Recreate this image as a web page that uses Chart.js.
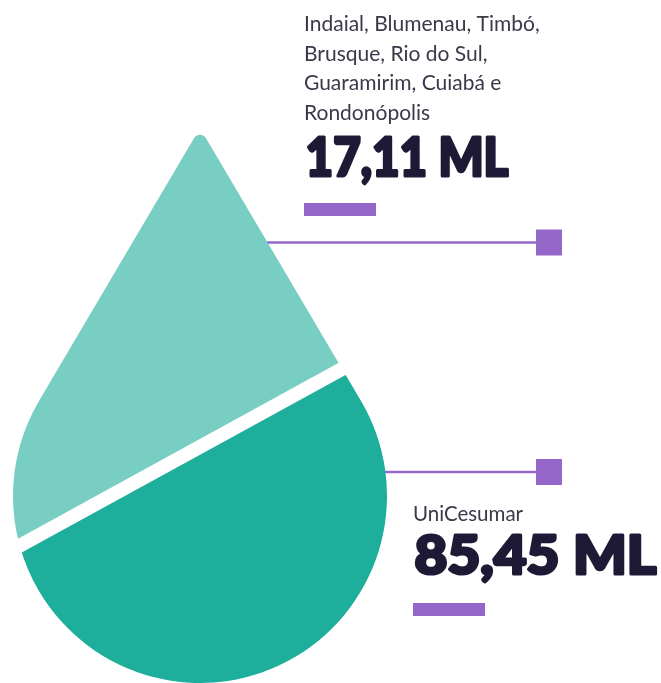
<!DOCTYPE html>
<html><head><meta charset="utf-8">
<script src="https://cdn.jsdelivr.net/npm/chart.js@4.4.1/dist/chart.umd.min.js"></script>
<style>html,body{margin:0;padding:0;background:#fff;overflow:hidden}#wrap{position:relative;width:661px;height:683px}</style>
</head><body><div id="wrap"><canvas id="c" width="661" height="683"></canvas></div>
<script>
// ---- data ----
const categories = ['Consumo'];
const groupNames = [
  ['Indaial, Blumenau, Timbó,', 'Brusque, Rio do Sul,', 'Guaramirim, Cuiabá e', 'Rondonópolis'],
  ['UniCesumar']
];
const volumes = [17.11, 85.45];
const unit = 'ML';
const groupColors = ['#78cec2', '#1daf9b'];

// ---- style / layout ----
const PURPLE = '#9467c8';
const NAVY = '#1e1a36';
const GRAY = '#3b3849';
const labelLayout = [
  { x: 304, nameY: 31, lineH: 29.5, nameSize: 21, valueY: 178, valueW: 206, valueSize: 54, barY: 203, leaderY: 242.5, leaderFrom: 240 },
  { x: 413, nameY: 521, lineH: 29.5, nameSize: 20.5, valueY: 576, valueW: 245, valueSize: 54, barY: 603, leaderY: 472, leaderFrom: 300 }
];
const DROP = { cx: 200, cy: 496, r: 187, tx: 200, ty: 128, tipR: 7 };
const SPLIT = { x: 182, y: 456.7, angle: Math.atan2(-177.7, 324) };
const HEAVY = 'Lato';
const HEAVY_STROKE = 3.2;

const fmt = v => v.toFixed(2).replace('.', ',') + ' ' + unit;

function dropPath(ctx) {
  const { cx, cy, r, tx, ty, tipR } = DROP;
  const a = Math.acos(r / (cy - ty));
  const aR = -Math.PI / 2 + a, aL = -Math.PI / 2 - a;
  const L = [cx + r * Math.cos(aL), cy + r * Math.sin(aL)];
  const R = [cx + r * Math.cos(aR), cy + r * Math.sin(aR)];
  ctx.beginPath();
  ctx.moveTo(L[0], L[1]);
  ctx.arcTo(tx, ty, R[0], R[1], tipR);
  ctx.lineTo(R[0], R[1]);
  ctx.arc(cx, cy, r, aR, aL + 2 * Math.PI, false);
  ctx.closePath();
}

const dropPlugin = {
  id: 'drop',
  beforeDatasetsDraw(chart) {
    const ctx = chart.ctx;
    ctx.save();
    labelLayout.forEach(l => {
      ctx.strokeStyle = PURPLE; ctx.lineWidth = 2.5;
      ctx.beginPath(); ctx.moveTo(l.leaderFrom, l.leaderY); ctx.lineTo(540, l.leaderY); ctx.stroke();
      ctx.fillStyle = PURPLE;
      ctx.fillRect(536, l.leaderY - 13, 26, 26);
    });
    ctx.restore();
    ctx.save();
    dropPath(ctx);
    ctx.clip();
    const bar = chart.getDatasetMeta(0).data[0];
    ctx.translate(SPLIT.x, SPLIT.y);
    ctx.rotate(SPLIT.angle);
    ctx.translate(-bar.x, -bar.y);
  },
  afterDatasetsDraw(chart) {
    chart.ctx.restore();
  },
  afterDraw(chart) {
    const ctx = chart.ctx;
    ctx.save();
    ctx.textBaseline = 'alphabetic';
    ctx.textAlign = 'left';
    groupNames.forEach((lines, i) => {
      const l = labelLayout[i];
      ctx.fillStyle = GRAY;
      ctx.font = `400 ${l.nameSize}px Lato`;
      lines.forEach((t, j) => ctx.fillText(t, l.x, l.nameY + j * l.lineH));
      const txt = fmt(volumes[i]);
      ctx.font = `900 ${l.valueSize}px ${HEAVY}`;
      const w = ctx.measureText(txt).width;
      ctx.save();
      ctx.translate(l.x + HEAVY_STROKE / 2, l.valueY - HEAVY_STROKE / 2);
      ctx.scale((l.valueW - HEAVY_STROKE) / w, 1);
      ctx.fillStyle = NAVY;
      ctx.strokeStyle = NAVY;
      ctx.lineWidth = HEAVY_STROKE;
      ctx.lineJoin = 'round';
      ctx.fillText(txt, 0, 0);
      ctx.strokeText(txt, 0, 0);
      ctx.restore();
      ctx.fillStyle = PURPLE;
      ctx.fillRect(l.x, l.barY, 72, 13);
    });
    ctx.restore();
  }
};

const order = [1, 0];
const datasets = order.map((gi, k) => ({
  label: groupNames[gi].join(' '),
  data: [volumes[gi]],
  backgroundColor: groupColors[gi],
  borderColor: '#ffffff',
  borderWidth: k === 0 ? { top: 7, bottom: 0, left: 0, right: 0 } : { top: 0, bottom: 7, left: 0, right: 0 },
  borderSkipped: false,
  borderRadius: 0,
  inflateAmount: 0,
  barPercentage: 1,
  categoryPercentage: 1,
  clip: false
}));

new Chart(document.getElementById('c'), {
  type: 'bar',
  data: { labels: categories, datasets },
  options: {
    responsive: false,
    animation: false,
    events: [],
    layout: { padding: 0 },
    plugins: { legend: { display: false }, tooltip: { enabled: false } },
    scales: {
      x: { display: false, stacked: true },
      y: { display: false, stacked: true, min: 0, max: 30 }
    }
  },
  plugins: [dropPlugin]
});
</script>
</body></html>
